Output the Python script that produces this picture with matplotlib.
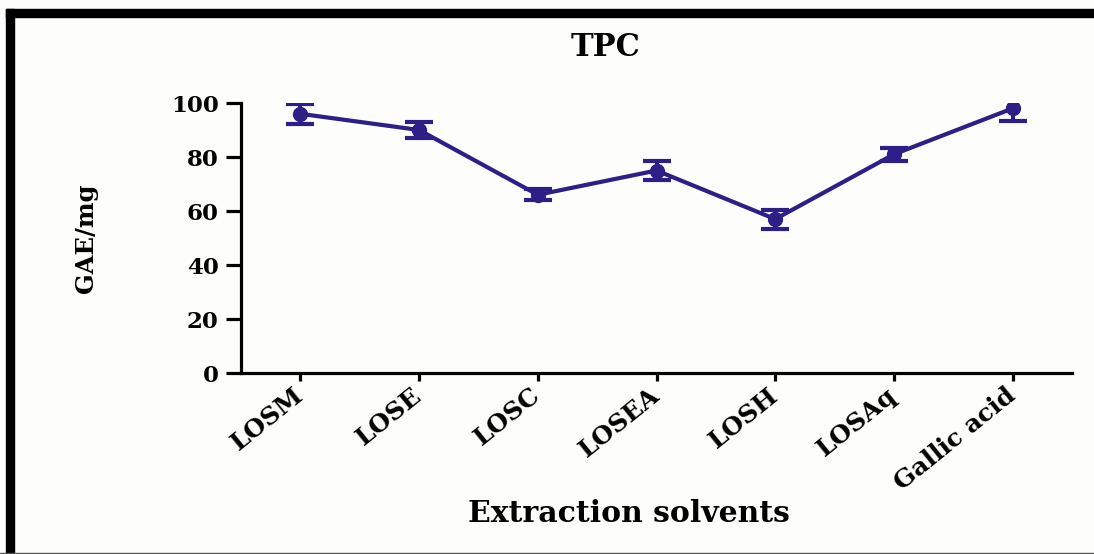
import matplotlib
matplotlib.use("Agg")
import matplotlib.pyplot as plt
import matplotlib.transforms as mtransforms
from matplotlib.patches import Rectangle
import numpy as np

# TPC per extraction solvent (mean and error)
solvents = ["LOSM", "LOSE", "LOSC", "LOSEA", "LOSH", "LOSAq", "Gallic acid"]
tpc_mean = [96, 90, 66, 75, 57, 81, 98]
tpc_err = [3.6, 3.0, 2.0, 3.5, 3.5, 2.5, 4.5]
y_ticks = [0, 20, 40, 60, 80, 100]

line_color = "#2d1f88"
serif = ["DejaVu Serif"]

fig = plt.figure(figsize=(10.94, 5.54), dpi=100, facecolor="#fdfdfb")

# black frame along top and left edges
fig.patches.append(Rectangle((6 / 1094, 1 - 17 / 554), 1 - 6 / 1094, 8 / 554,
                             transform=fig.transFigure, color="black", zorder=0))
fig.patches.append(Rectangle((6 / 1094, 0), 8 / 1094, 1 - 9 / 554,
                             transform=fig.transFigure, color="black", zorder=0))
fig.patches.append(Rectangle((0, 0), 1, 1.5 / 554,
                             transform=fig.transFigure, color="#555555", zorder=0))

ax = fig.add_axes([241 / 1094, 1 - 373 / 554, 831 / 1094, 270 / 554])
ax.set_facecolor("none")

x = np.arange(len(solvents))
ax.errorbar(x, tpc_mean, yerr=tpc_err, color=line_color, lw=3,
            marker="o", ms=10, capsize=10, capthick=3, elinewidth=3, zorder=3)

ax.set_xlim(-0.5, len(solvents) - 0.5)
ax.set_ylim(0, 100)
ax.set_yticks(y_ticks)
ax.set_xticks(x)
ax.set_xticklabels(solvents, rotation=39, ha="right", va="center",
                   rotation_mode="anchor", fontsize=18, fontweight="bold",
                   family=serif)
for lbl in ax.get_xticklabels():
    lbl.set_transform(lbl.get_transform() +
                      mtransforms.ScaledTranslation(14 / 72, -17 / 72, fig.dpi_scale_trans))
for lbl in ax.get_yticklabels():
    lbl.set_fontsize(16.5)
    lbl.set_fontweight("bold")
    lbl.set_family(serif)

for side in ["top", "right"]:
    ax.spines[side].set_visible(False)
for side in ["left", "bottom"]:
    ax.spines[side].set_linewidth(2.3)
ax.tick_params(axis="y", length=11, width=2.3, pad=5)
ax.tick_params(axis="x", length=6, width=2.3, pad=8)

fig.text(606 / 1094, 1 - 48 / 554, "TPC", ha="center", va="center",
         fontsize=22, fontweight="bold", family=serif)
fig.text(629 / 1094, 1 - 514 / 554, "Extraction solvents", ha="center", va="center",
         fontsize=21.5, fontweight="bold", family=serif)
fig.text(86 / 1094, 1 - 238 / 554, "GAE/mg", ha="center", va="center", rotation=90,
         fontsize=17.5, fontweight="bold", family=serif)

fig.savefig("out.png", dpi=100, facecolor=fig.get_facecolor())
